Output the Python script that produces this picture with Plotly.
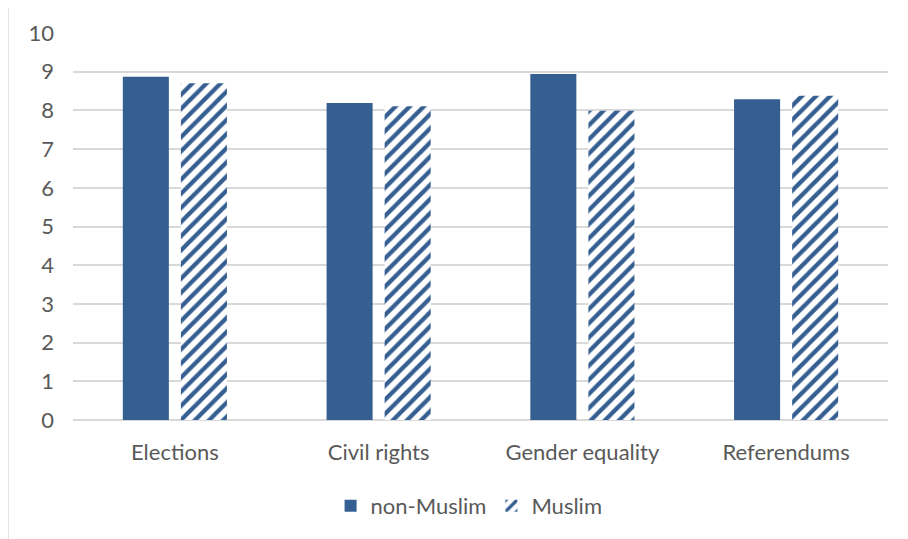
import plotly.graph_objects as go

categories = ["Elections", "Civil rights", "Gender equality", "Referendums"]
non_muslim = [8.87, 8.19, 8.94, 8.29]
muslim = [8.70, 8.11, 7.99, 8.38]
y_ticks = [0, 1, 2, 3, 4, 5, 6, 7, 8, 9, 10]

BLUE = "#355E91"
GRID = "#D9D9D9"
TXT = "#595959"
FONT = "Lato"
FS = 22

fig = go.Figure()
fig.add_trace(go.Bar(
    x=categories, y=non_muslim, name="non-Muslim",
    marker=dict(color=BLUE, line=dict(width=0)),
))
fig.add_trace(go.Bar(
    x=categories, y=muslim, name="Muslim",
    marker=dict(color="white", line=dict(width=0),
                pattern=dict(shape="/", fgcolor=BLUE, bgcolor="white", fgopacity=1,
                             size=10, solidity=0.42, fillmode="replace")),
))

fig.update_layout(
    width=908, height=539,
    margin=dict(l=65, r=28, t=25, b=127, autoexpand=False),
    paper_bgcolor="white", plot_bgcolor="white",
    barmode="group", bargap=0.43, bargroupgap=0.207,
    font=dict(family=FONT, size=FS, color=TXT),
    showlegend=True,
    legend=dict(orientation="h", x=0.486, xanchor="center", y=-0.222, yanchor="middle",
                font=dict(family=FONT, size=FS, color=TXT), itemwidth=30,
                traceorder="normal"),
    shapes=[dict(type="rect", xref="paper", yref="paper",
                 x0=-0.0798, x1=1.2, y0=-0.4, y1=1.075,
                 line=dict(color=GRID, width=1.5), fillcolor="rgba(0,0,0,0)", layer="below")],
)
fig.update_yaxes(range=[0, 10], tickvals=y_ticks, showgrid=True, gridcolor=GRID, gridwidth=1.5,
                 zeroline=True, zerolinecolor=GRID, zerolinewidth=1.5, showline=False,
                 automargin=False,
                 ticklabelstandoff=18, tickfont=dict(family=FONT, size=FS, color=TXT))
fig.update_xaxes(showline=False, ticks="", ticklabelstandoff=17, automargin=False,
                 tickfont=dict(family=FONT, size=FS, color=TXT))

fig.write_html("out.html")
